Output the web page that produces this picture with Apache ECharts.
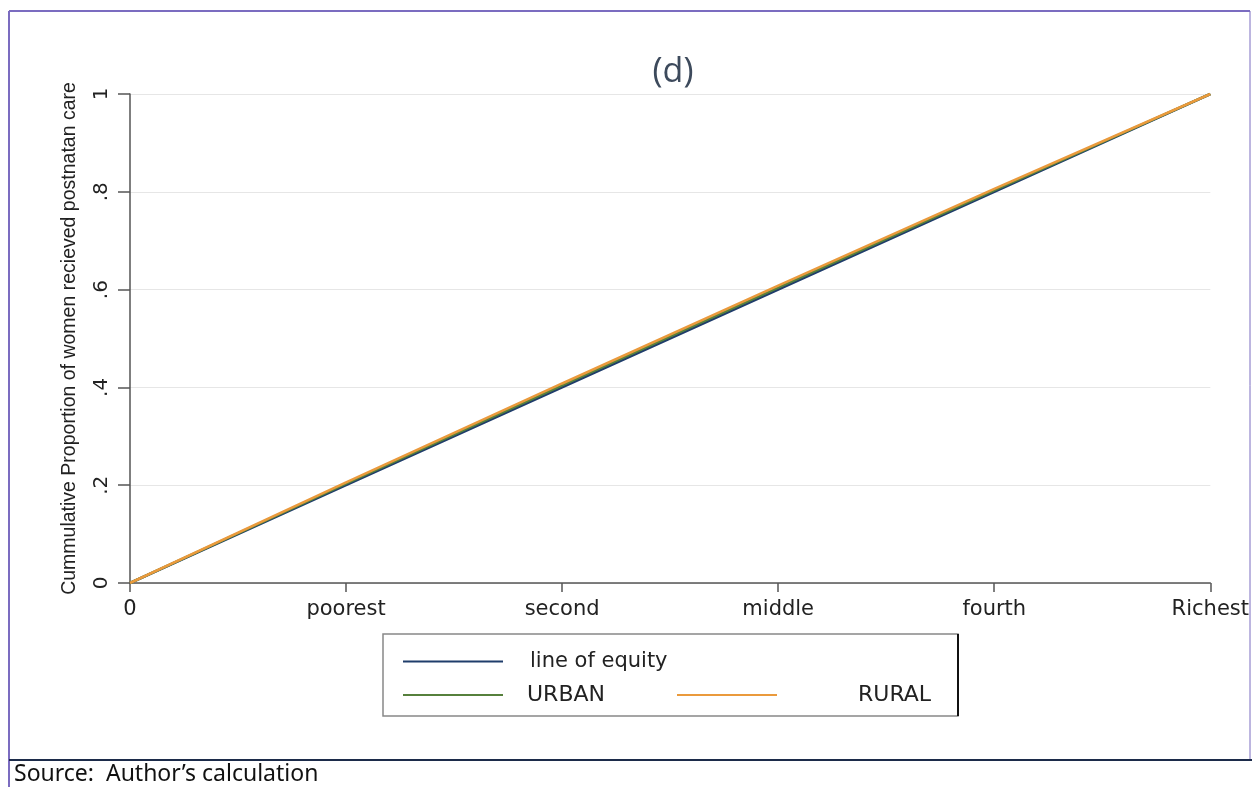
<!DOCTYPE html>
<html>
<head>
<meta charset="utf-8">
<script src="https://cdn.jsdelivr.net/npm/echarts@6/dist/echarts.min.js"></script>
<style>
  html, body { margin: 0; padding: 0; background: #ffffff; }
  #chart { width: 1252px; height: 787px; }
</style>
</head>
<body>
<div id="chart"></div>
<script>
// Wealth quintile positions along the x axis
const quintileLabels = ['0', 'poorest', 'second', 'middle', 'fourth', 'Richest'];
const quintilePos = [0, 1, 2, 3, 4, 5];

// Cumulative proportion of women who received postnatal care
const equityLine = [0, 0.2, 0.4, 0.6, 0.8, 1];
const urbanLine  = [0, 0.203, 0.404, 0.604, 0.803, 1];
const ruralLine  = [0, 0.206, 0.408, 0.608, 0.806, 1];

// Y axis tick labels (Stata style)
const yTickLabels = { 0: '0', 0.2: '.2', 0.4: '.4', 0.6: '.6', 0.8: '.8', 1: '1' };

const pairs = arr => quintilePos.map((x, i) => [x, arr[i]]);

const colors = { equity: '#1f3d6b', urban: '#56803c', rural: '#ea9a3c' };

const chart = echarts.init(document.getElementById('chart'));

const legendText = { fontFamily: 'DejaVu Sans', fontSize: 21, color: '#222' };

chart.setOption({
  backgroundColor: '#ffffff',
  animation: false,
  title: {
    text: '(d)',
    left: 668, top: 50,
    textAlign: 'center',
    textStyle: { fontFamily: 'Open Sans', fontSize: 34, fontWeight: 'normal', color: '#3d4a5c' }
  },
  grid: { left: 130, right: 37, top: 94, bottom: 204, containLabel: false },
  xAxis: {
    type: 'value', min: 0, max: 5, interval: 1,
    axisLine: { show: true, lineStyle: { color: '#555', width: 1.5 } },
    axisTick: { show: true, length: 9, lineStyle: { color: '#555', width: 1.5 } },
    axisLabel: {
      margin: 16,
      fontFamily: 'DejaVu Sans', fontSize: 21, color: '#222',
      formatter: v => quintileLabels[Math.round(v)]
    },
    splitLine: { show: false }
  },
  yAxis: {
    type: 'value', min: 0, max: 1, interval: 0.2,
    name: 'Cummulative Proportion of women recieved postnatan care',
    nameLocation: 'middle', nameGap: 50, nameRotate: 90,
    nameTextStyle: { fontFamily: 'Liberation Sans Narrow, Liberation Sans', fontSize: 19.5, color: '#222' },
    axisLine: { show: true, lineStyle: { color: '#555', width: 1.5 } },
    axisTick: { show: true, length: 12, lineStyle: { color: '#555', width: 1.5 } },
    axisLabel: {
      rotate: 90, margin: 18,
      fontFamily: 'DejaVu Sans', fontSize: 20, color: '#222',
      formatter: v => yTickLabels[Math.round(v * 10) / 10]
    },
    splitLine: { show: true, lineStyle: { color: '#e6e6e6', width: 1.2 } }
  },
  legend: [
    { data: ['line of equity'], left: 398, top: 646, icon: 'rect', itemWidth: 100, itemHeight: 2, itemGap: 0,
      textStyle: Object.assign({ padding: [0, 0, 0, 22] }, legendText), selectedMode: false },
    { data: ['URBAN'], left: 398, top: 679, icon: 'rect', itemWidth: 100, itemHeight: 2,
      textStyle: Object.assign({ padding: [0, 0, 0, 19] }, legendText, { fontSize: 22 }), selectedMode: false },
    { data: ['RURAL'], left: 672, top: 679, icon: 'rect', itemWidth: 100, itemHeight: 2,
      textStyle: Object.assign({ padding: [0, 0, 0, 76] }, legendText, { fontSize: 22 }), selectedMode: false }
  ],
  series: [
    { name: 'line of equity', type: 'line', data: pairs(equityLine), symbol: 'none',
      lineStyle: { color: colors.equity, width: 2.5 }, itemStyle: { color: colors.equity }, z: 2 },
    { name: 'URBAN', type: 'line', data: pairs(urbanLine), symbol: 'none',
      lineStyle: { color: colors.urban, width: 2.5 }, itemStyle: { color: colors.urban }, z: 3 },
    { name: 'RURAL', type: 'line', data: pairs(ruralLine), symbol: 'none',
      lineStyle: { color: colors.rural, width: 2.5 }, itemStyle: { color: colors.rural }, z: 4 }
  ],
  graphic: [
    // outer frame
    { type: 'line', shape: { x1: 9, y1: 11, x2: 1250, y2: 11 }, style: { stroke: '#7b6cc0', lineWidth: 2 } },
    { type: 'line', shape: { x1: 9, y1: 11, x2: 9, y2: 787 }, style: { stroke: '#7b6cc0', lineWidth: 2 } },
    { type: 'line', shape: { x1: 1250, y1: 11, x2: 1250, y2: 760 }, style: { stroke: '#7b6cc0', lineWidth: 1 } },
    { type: 'line', shape: { x1: 9, y1: 760, x2: 1252, y2: 760 }, style: { stroke: '#1c2b4a', lineWidth: 2 } },
    // legend box
    { type: 'rect', shape: { x: 383, y: 634, width: 575, height: 82 }, style: { fill: 'none', stroke: '#888', lineWidth: 1.5 }, z: 0 },
    { type: 'line', shape: { x1: 958, y1: 634, x2: 958, y2: 716 }, style: { stroke: '#111', lineWidth: 2 } },
    // source note
    { type: 'text', left: 14, top: 763,
      style: { text: 'Source:  Author\u2019s calculation', fontFamily: 'Noto Sans', fontSize: 23, fill: '#111' } }
  ]
});
</script>
</body>
</html>
